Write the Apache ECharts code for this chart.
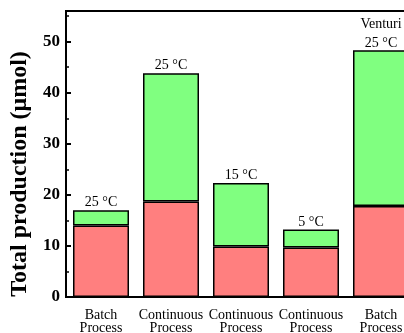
<!DOCTYPE html>
<html><head><meta charset="utf-8">
<script src="https://cdn.jsdelivr.net/npm/echarts@6/dist/echarts.min.js"></script>
<style>html,body{margin:0;padding:0;background:#fff}#c{width:404px;height:333px}</style>
</head><body><div id="c"></div>
<script>
const categories = ['Batch\nProcess','Continuous\nProcess','Continuous\nProcess','Continuous\nProcess','Batch\nProcess'];
const lowerValues = [14.0, 18.7, 9.9, 9.7, 17.8];
const upperValues = [3.0, 25.1, 12.4, 3.5, 30.5];
const topLabels = ['25 °C','25 °C','15 °C','5 °C','Venturi\n25 °C'];

const chart = echarts.init(document.getElementById('c'), null, {renderer:'canvas'});
const serif = '"Liberation Serif","Times New Roman",serif';
const upperData = upperValues.map((v,i)=> i===4 ? {value:v, label:{lineHeight:19, distance:-3}} : v);
chart.setOption({
  animation:false,
  grid:{left:66, top:11, width:350, height:286, show:true, borderColor:'#000', borderWidth:2, containLabel:false, outerBoundsMode:'none'},
  xAxis:{type:'category', data:categories,
    axisLine:{lineStyle:{color:'#000', width:2}},
    axisTick:{alignWithLabel:true, length:4, lineStyle:{color:'#000', width:2}},
    axisLabel:{color:'#000', fontFamily:serif, fontSize:14, lineHeight:13, margin:12, interval:0, hideOverlap:false}},
  yAxis:{type:'value', min:0, max:56, interval:10,
    name:'Total production (μmol)', nameLocation:'middle', nameGap:31,
    nameTextStyle:{color:'#000', fontFamily:serif, fontWeight:'bold', fontSize:24, padding:[0,40,0,0]},
    splitLine:{show:false},
    axisLine:{show:true, lineStyle:{color:'#000', width:2}},
    axisTick:{show:true, inside:true, length:5, lineStyle:{color:'#000', width:2}},
    minorTick:{show:true, splitNumber:2, length:3, lineStyle:{color:'#000', width:1.5}},
    axisLabel:{color:'#000', fontFamily:serif, fontWeight:'bold', fontSize:17, margin:6, showMaxLabel:false}},
  series:[
    {type:'bar', stack:'s', data:lowerValues, barWidth:56,
     itemStyle:{color:'#FF7F7F', borderColor:'#000', borderWidth:1.5}},
    {type:'bar', stack:'s', data:upperData, barWidth:56,
     itemStyle:{color:'#80FF80', borderColor:'#000', borderWidth:1.5},
     label:{show:true, position:'top', distance:0, color:'#000', fontFamily:serif, fontSize:14, lineHeight:15,
       formatter:p=>topLabels[p.dataIndex]}}
  ]
});
</script></body></html>
